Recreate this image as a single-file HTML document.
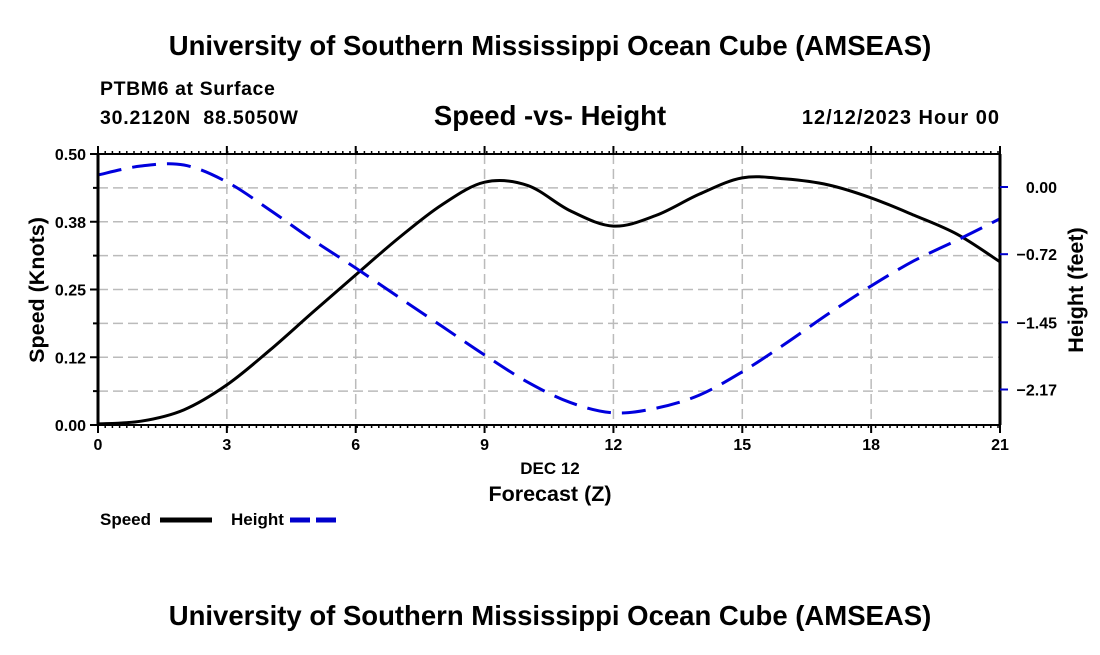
<!DOCTYPE html>
<html><head><meta charset="utf-8"><style>
body{margin:0;background:#fff}
svg text{font-family:"Liberation Sans",Arial,sans-serif;font-weight:bold;fill:#000;white-space:pre}
</style></head><body>
<svg id="chart" width="1100" height="650">
<text x="550" y="55" font-size="27.5" text-anchor="middle">University of Southern Mississippi Ocean Cube (AMSEAS)</text>
<text x="100" y="95" font-size="19.5" letter-spacing="0.6">PTBM6 at Surface</text>
<text x="100" y="124" font-size="19.5" letter-spacing="0.8">30.2120N  88.5050W</text>
<text x="550" y="125" font-size="27.5" text-anchor="middle">Speed -vs- Height</text>
<text x="1000" y="124" font-size="20" letter-spacing="1" text-anchor="end">12/12/2023 Hour 00</text>
<g id="grid"></g>
<g id="series"></g>
<g id="axes"></g>
<text x="550" y="474" font-size="17" text-anchor="middle">DEC 12</text>
<text x="550" y="501" font-size="21.5" text-anchor="middle">Forecast (Z)</text>
<text transform="translate(44,290) rotate(-90)" font-size="21.5" text-anchor="middle">Speed (Knots)</text>
<text transform="translate(1083,290) rotate(-90)" font-size="21.5" text-anchor="middle">Height (feet)</text>
<g><text x="100" y="525" font-size="17">Speed</text><line x1="160" y1="520" x2="212" y2="520" stroke="#000" stroke-width="5"/></g>
<g><text x="231" y="525" font-size="17">Height</text><line x1="290" y1="520" x2="342" y2="520" stroke="#0000cc" stroke-width="5" stroke-dasharray="20 6"/></g>
<text x="550" y="625" font-size="27.5" text-anchor="middle">University of Southern Mississippi Ocean Cube (AMSEAS)</text>
</svg>
<script>
const hours=[0,1,2,3,4,5,6,7,8,9,10,11,12,13,14,15,16,17,18,19,20,21];
const speed=[0.002,0.007,0.028,0.074,0.138,0.208,0.277,0.345,0.406,0.448,0.442,0.395,0.367,0.387,0.426,0.456,0.454,0.443,0.419,0.387,0.352,0.301];
const height=[0.129,0.225,0.236,0.054,-0.246,-0.568,-0.868,-1.18,-1.49,-1.80,-2.09,-2.31,-2.42,-2.37,-2.23,-1.98,-1.68,-1.36,-1.06,-0.79,-0.57,-0.34];
const xTicks=[0,3,6,9,12,15,18,21];
const yTicks=["0.00","0.12","0.25","0.38","0.50"];
const y2Ticks=[0.00,-0.72,-1.45,-2.17];
const X0=98,X1=1000,Y0=425,Y1=154;
const xs=h=>X0+(X1-X0)*h/21;
const ys=v=>Y0-(Y0-Y1)*v/0.5;
const y2s=v=>187-(v/0.7233)*67.5;
const NS="http://www.w3.org/2000/svg";
function mk(p,t,a){const e=document.createElementNS(NS,t);for(const k in a)e.setAttribute(k,a[k]);p.appendChild(e);return e;}
const grid=document.getElementById('grid'),axes=document.getElementById('axes'),ser=document.getElementById('series');
for(let i=1;i<8;i++){const y=Y0-(Y0-Y1)*i/8;
const g=mk(grid,'line',{x1:X0,x2:X1,y1:y,y2:y,stroke:'#bbb','stroke-width':1.5,'stroke-dasharray':'10 5'});

}
xTicks.forEach(h=>{if(h>0&&h<21){const g=mk(grid,'line',{x1:xs(h),x2:xs(h),y1:Y1,y2:Y0,stroke:'#bbb','stroke-width':1.5,'stroke-dasharray':'10 5'});

}
const t=mk(axes,'text',{x:xs(h),y:Y0+25,'font-size':16,'text-anchor':'middle'});t.textContent=h;


mk(axes,'line',{x1:xs(h),x2:xs(h),y1:Y0,y2:Y0+8,stroke:'#000','stroke-width':2});
mk(axes,'line',{x1:xs(h),x2:xs(h),y1:Y1,y2:Y1-8,stroke:'#000','stroke-width':2});});
for(let x=X0;x<=X1;x+=7.2){mk(axes,'line',{x1:x,x2:x,y1:Y0,y2:Y0+3,stroke:'#000','stroke-width':1.5});mk(axes,'line',{x1:x,x2:x,y1:Y1,y2:Y1-3,stroke:'#000','stroke-width':1.5});}
mk(axes,'line',{x1:X0,x2:X0,y1:Y1,y2:Y0,stroke:'#000','stroke-width':3});
mk(axes,'line',{x1:X1,x2:X1,y1:Y1,y2:Y0,stroke:'#000','stroke-width':3});
mk(axes,'line',{x1:X0,x2:X1,y1:Y0,y2:Y0,stroke:'#000','stroke-width':2});
mk(axes,'line',{x1:X0,x2:X1,y1:Y1,y2:Y1,stroke:'#000','stroke-width':2});
for(let i=0;i<=8;i++){const y=Y0-(Y0-Y1)*i/8;mk(axes,'line',{x1:X0-(i%2?5:8),x2:X0,y1:y,y2:y,stroke:'#000','stroke-width':2});}
yTicks.forEach((l,i)=>{const t=mk(axes,'text',{x:X0-12,y:ys(i*0.125)+6,'font-size':16,'text-anchor':'end'});t.textContent=l;

});
y2Ticks.forEach(v=>{const y=y2s(v);mk(axes,'line',{x1:X1,x2:X1+8,y1:y,y2:y,stroke:'#0000cc','stroke-width':2});
const t=mk(axes,'text',{x:1057,y:y+6,'font-size':16,'text-anchor':'end'});t.textContent=(v===0?'0.00':'\u2212'+Math.abs(v).toFixed(2));

});
function path(pts){let d='M'+pts[0][0]+','+pts[0][1];for(let i=0;i<pts.length-1;i++){const p0=pts[Math.max(i-1,0)],p1=pts[i],p2=pts[i+1],p3=pts[Math.min(i+2,pts.length-1)];
d+=` C${p1[0]+(p2[0]-p0[0])/6},${p1[1]+(p2[1]-p0[1])/6} ${p2[0]-(p3[0]-p1[0])/6},${p2[1]-(p3[1]-p1[1])/6} ${p2[0]},${p2[1]}`;}return d;}
const sp=mk(ser,'path',{d:path(hours.map((h,i)=>[xs(h),ys(speed[i])])),fill:'none',stroke:'#000','stroke-width':3});


const hp=mk(ser,'path',{d:path(hours.map((h,i)=>[xs(h),y2s(height[i])])),fill:'none',stroke:'#0000dd','stroke-width':3,'stroke-dasharray':'24 11'});


</script>
</body></html>
